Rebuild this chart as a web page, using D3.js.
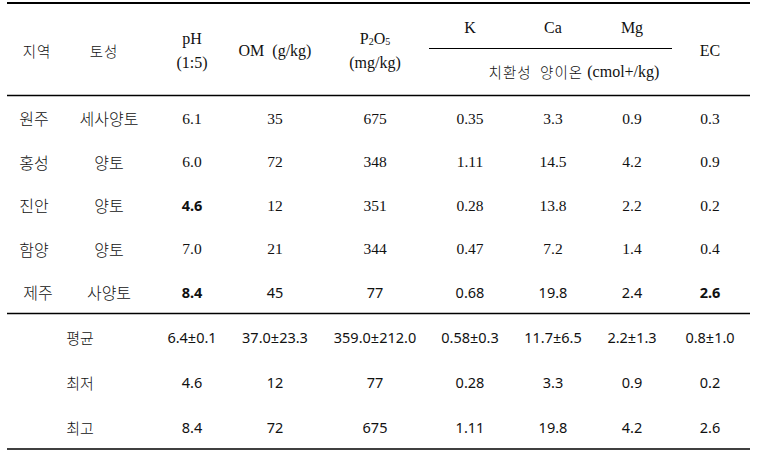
<!DOCTYPE html>
<html><head><meta charset="utf-8">
<script src="https://cdn.jsdelivr.net/npm/d3@7"></script>
<style>
body{margin:0;background:#fff;}
svg{display:block;}
</style></head>
<body>
<script>
// ---- data ----
const regions = ["원주","홍성","진안","함양","제주"];
const soilTypes = ["세사양토","양토","양토","양토","사양토"];
const pH = ["6.1","6.0","4.6","7.0","8.4"];
const OM = ["35","72","12","21","45"];
const P2O5 = ["675","348","351","344","77"];
const K = ["0.35","1.11","0.28","0.47","0.68"];
const Ca = ["3.3","14.5","13.8","7.2","19.8"];
const Mg = ["0.9","4.2","2.2","1.4","2.4"];
const EC = ["0.3","0.9","0.2","0.4","2.6"];
const boldCells = [[2,"pH"],[4,"pH"],[4,"EC"]];
const summaryLabels = ["평균","최저","최고"];
const summaryPH = ["6.4±0.1","4.6","8.4"];
const summaryOM = ["37.0±23.3","12","72"];
const summaryP = ["359.0±212.0","77","675"];
const summaryK = ["0.58±0.3","0.28","1.11"];
const summaryCa = ["11.7±6.5","3.3","19.8"];
const summaryMg = ["2.2±1.3","0.9","4.2"];
const summaryEC = ["0.8±1.0","0.2","2.6"];

const W = 758, H = 457;
const svg = d3.select("body").append("svg").attr("width", W).attr("height", H);

const cols = ["region","soil","pH","OM","P","K","Ca","Mg","EC"];
const x = d3.scaleOrdinal().domain(cols).range([34,109,192,275,375,470,553,632,710]);
const yRow = d3.scalePoint().domain(d3.range(regions.length)).range([118,292]);
const ySum = d3.scalePoint().domain(d3.range(summaryLabels.length)).range([337,427]);

const SERIF = "'Liberation Serif','Times New Roman',serif";
const SANS = "'Noto Sans','Open Sans',sans-serif";
const KR = "'Noto Sans CJK KR','Noto Sans',sans-serif";
const ink = "#111";

function txt(g, xx, yy, s, font, size, weight){
  return g.append("text").attr("x", xx).attr("y", yy).attr("text-anchor","middle")
    .attr("dominant-baseline","central").attr("font-family", font)
    .attr("font-size", size).attr("font-weight", weight||"normal").attr("fill", ink).text(s);
}
function hline(x1,x2,y,w){
  svg.append("line").attr("x1",x1).attr("x2",x2).attr("y1",y).attr("y2",y)
    .attr("stroke","#000").attr("stroke-width",w);
}

// rules
hline(7,750,3,2);
hline(7,750,95.5,1.5);
hline(7,750,313.5,1.5);
hline(7,750,449,1.5);
hline(429,672,48.5,1);

// header
const hd = svg.append("g");
txt(hd, 37, 50, "지역", KR, 14.5, 300).attr("letter-spacing", 1);
txt(hd, 104, 50, "토성", KR, 14.5, 300).attr("letter-spacing", 1);
txt(hd, x("pH"), 38, "pH", SERIF, 16);
txt(hd, x("pH"), 62, "(1:5)", SERIF, 16);
txt(hd, x("OM"), 50, "OM  (g/kg)", SERIF, 16).attr("xml:space","preserve");
const pt = txt(hd, x("P"), 38, "", SERIF, 16);
pt.append("tspan").text("P");
pt.append("tspan").attr("font-size",10).attr("dy",3).text("2");
pt.append("tspan").attr("dy",-3).text("O");
pt.append("tspan").attr("font-size",10).attr("dy",3).text("5");
txt(hd, x("P"), 62, "(mg/kg)", SERIF, 16);
txt(hd, x("K"), 27, "K", SERIF, 16);
txt(hd, x("Ca"), 27, "Ca", SERIF, 16);
txt(hd, x("Mg"), 27, "Mg", SERIF, 16);
const ct = txt(hd, 574, 71, "", KR, 14.5, 300);
ct.append("tspan").attr("letter-spacing", 1).text("치환성  양이온 ");
ct.append("tspan").attr("font-family",SERIF).attr("font-size",16).text("(cmol+/kg)");
ct.attr("xml:space","preserve");
txt(hd, x("EC"), 50, "EC", SERIF, 16);

// body rows
const rows = regions.map((r,i)=>({i, region:r, soil:soilTypes[i], pH:pH[i], OM:OM[i], P:P2O5[i], K:K[i], Ca:Ca[i], Mg:Mg[i], EC:EC[i]}));
const body = svg.append("g");
const rg = body.selectAll("g.row").data(rows).join("g").attr("class","row");
rg.each(function(d){
  const g = d3.select(this);
  const last = d.i === regions.length-1;
  txt(g, x("region") + (last?4:0), yRow(d.i), d.region, KR, 16, 300);
  txt(g, x("soil"), yRow(d.i), d.soil, KR, 16, 300);
  ["pH","OM","P","K","Ca","Mg","EC"].forEach(c=>{
    const bold = boldCells.some(b=>b[0]===d.i && b[1]===c);
    const font = (bold || last) ? SANS : SERIF;
    const size = (bold || last) ? 14.5 : 15.5;
    txt(g, x(c), yRow(d.i), d[c], font, size, bold ? "bold" : "normal");
  });
});

// summary rows
const sums = summaryLabels.map((l,i)=>({i, label:l, pH:summaryPH[i], OM:summaryOM[i], P:summaryP[i], K:summaryK[i], Ca:summaryCa[i], Mg:summaryMg[i], EC:summaryEC[i]}));
const sg = svg.append("g").selectAll("g.sum").data(sums).join("g").attr("class","sum");
sg.each(function(d){
  const g = d3.select(this);
  txt(g, 80, ySum(d.i), d.label, KR, 15, 300);
  ["pH","OM","P","K","Ca","Mg","EC"].forEach(c=>{
    txt(g, x(c), ySum(d.i), d[c], SANS, 14.5);
  });
});
</script>
</body></html>
